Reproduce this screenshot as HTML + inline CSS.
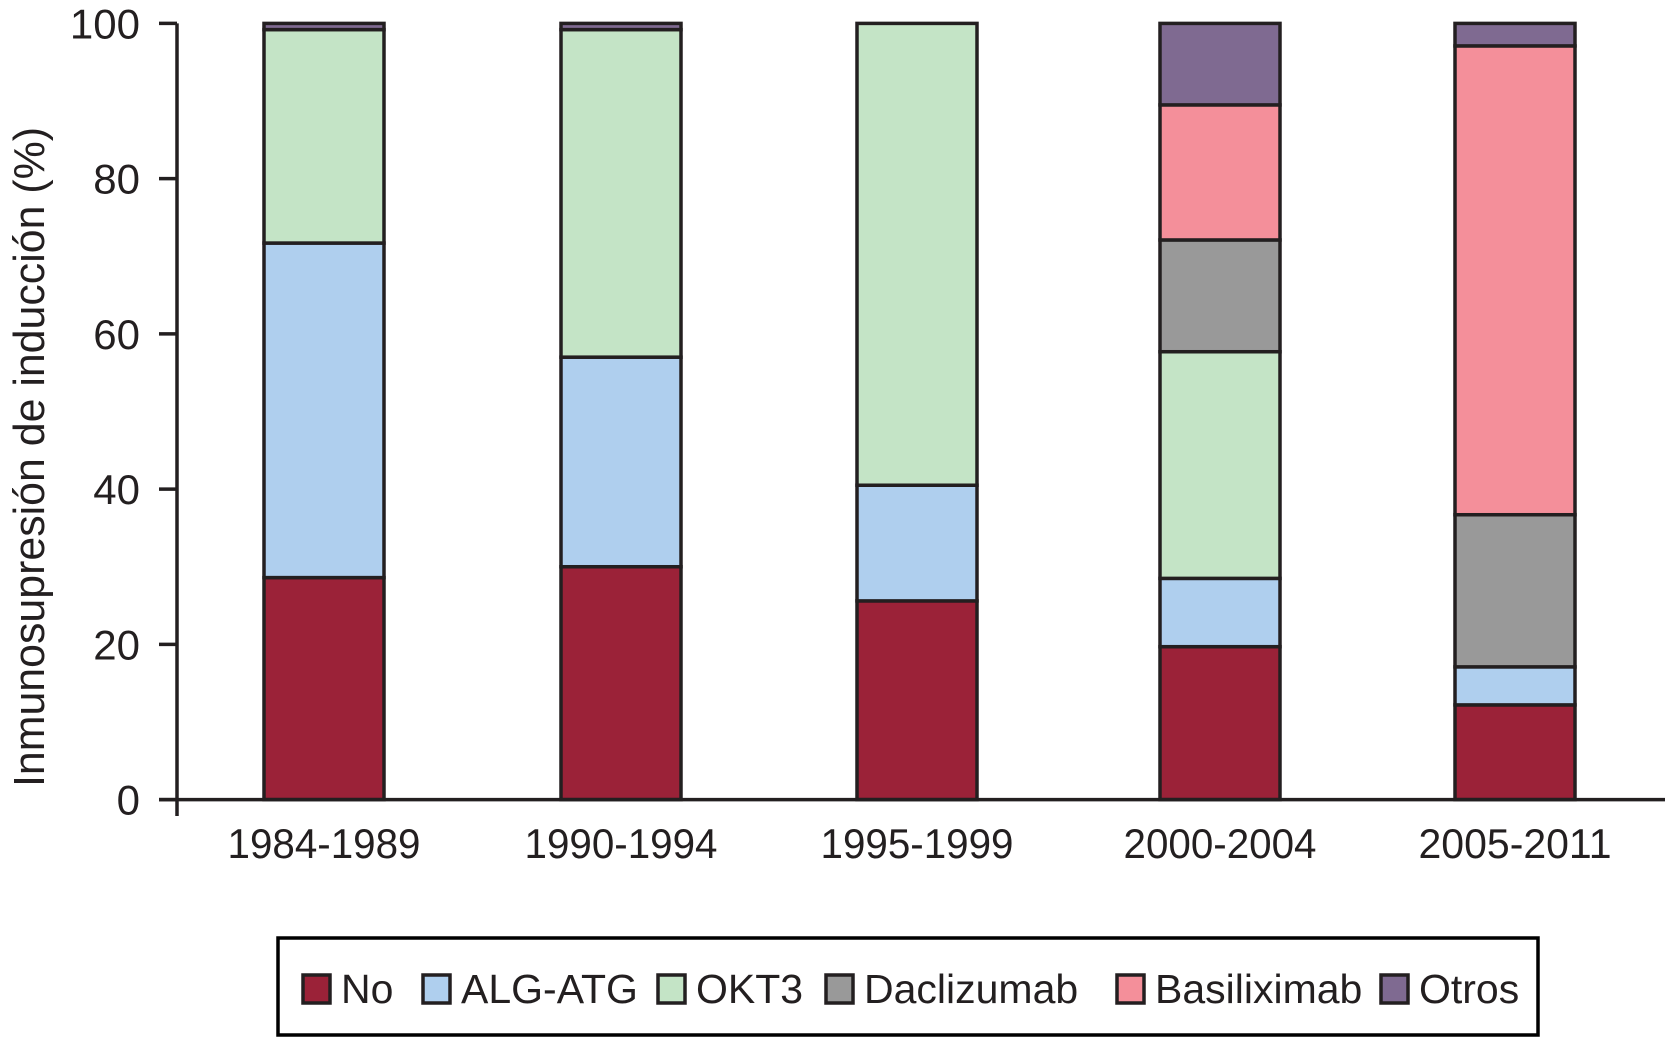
<!DOCTYPE html>
<html><head><meta charset="utf-8"><style>
html,body{margin:0;padding:0;background:#fff;}
svg{display:block;font-family:"Liberation Sans",Arial,sans-serif;}
</style></head><body>
<svg id="chart" width="1665" height="1038" viewBox="0 0 1665 1038" xmlns="http://www.w3.org/2000/svg"></svg>
<script>
const categories = ["1984-1989","1990-1994","1995-1999","2000-2004","2005-2011"];
const seriesNames = ["No","ALG-ATG","OKT3","Daclizumab","Basiliximab","Otros"];
const seriesNo = [28.6,30,25.6,19.7,12.2];
const seriesALG = [43.1,27,14.9,8.8,4.9];
const seriesOKT3 = [27.5,42.2,59.5,29.2,0];
const seriesDacli = [0,0,0,14.4,19.6];
const seriesBasil = [0,0,0,17.4,60.4];
const seriesOtros = [0.8,0.8,0,10.5,2.9];
const yTicks = [0,20,40,60,80,100];

const colors = ["#9b2238","#afcfee","#c4e4c6","#999999","#f48f9a","#7f6a91"];
const allSeries = [seriesNo,seriesALG,seriesOKT3,seriesDacli,seriesBasil,seriesOtros];
const NS="http://www.w3.org/2000/svg";
const svg=document.getElementById('chart');
const y0=799.6, y100=23.4, axisX=177;
const yS=v=>y0-(y0-y100)*v/100;
const centers=[324,621,917,1220,1515], bw=120;
const xS=i=>centers[i];
function mk(t,a){const e=document.createElementNS(NS,t);for(const k in a)e.setAttribute(k,a[k]);svg.appendChild(e);return e;}
const sk="#231f20";
categories.forEach((c,i)=>{
  let acc=0;
  allSeries.forEach((s,j)=>{
    const v=s[i]; if(v<=0)return;
    const r=mk('rect',{x:xS(i)-bw/2,y:yS(acc+v),width:bw,height:yS(acc)-yS(acc+v),fill:colors[j],stroke:sk,'stroke-width':3.5});
    
    
    acc+=v;
  });
  const t=mk('text',{x:xS(i),y:858,'text-anchor':'middle','font-size':42,fill:'#231f20',textLength:193,lengthAdjust:'spacingAndGlyphs'});
  t.textContent=c;
  
  
});
let l=mk('line',{x1:159,y1:y0,x2:1665,y2:y0,stroke:sk,'stroke-width':3.5});


l=mk('line',{x1:axisX,y1:y100,x2:axisX,y2:816,stroke:sk,'stroke-width':3.5});


yTicks.forEach(v=>{
  const tk=mk('line',{x1:159,y1:yS(v),x2:axisX,y2:yS(v),stroke:sk,'stroke-width':3.5});
  
  
  const t=mk('text',{x:140,y:yS(v)+15,'text-anchor':'end','font-size':42,fill:'#231f20'});
  t.textContent=v;
  
  
});
const yt=mk('text',{x:0,y:0,'text-anchor':'middle','font-size':44,fill:'#231f20',transform:'translate(44,457) rotate(-90)',textLength:660,lengthAdjust:'spacingAndGlyphs'});
yt.textContent='Inmunosupresión de inducción (%)';


const lb=mk('rect',{x:278,y:938,width:1260,height:97,fill:'none',stroke:'#000','stroke-width':3.5});


const swX=[303,423,658,826,1117,1381];
seriesNames.forEach((n,j)=>{
  const r=mk('rect',{x:swX[j],y:975,width:27,height:28,fill:colors[j],stroke:sk,'stroke-width':3.5});
  
  
  const t=mk('text',{x:swX[j]+38,y:1003,'font-size':41,fill:'#231f20'});
  t.textContent=n;
  
  
});
</script>
</body></html>
